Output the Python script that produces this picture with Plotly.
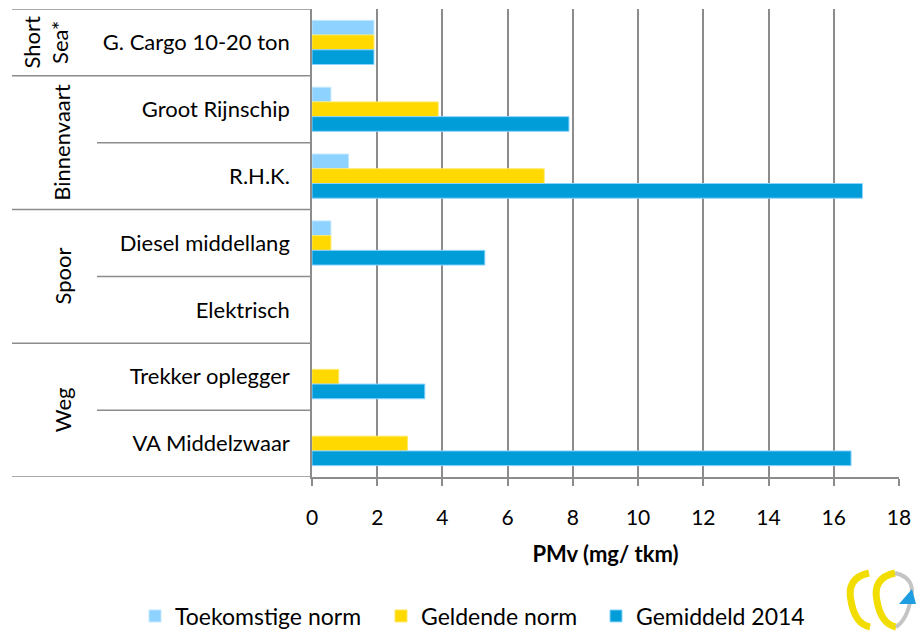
import plotly.graph_objects as go

# ---- data ----
categories = ["G. Cargo 10-20 ton", "Groot Rijnschip", "R.H.K.", "Diesel middellang",
              "Elektrisch", "Trekker oplegger", "VA Middelzwaar"]
groups = [("Short<br>Sea*", 0, 0), ("Binnenvaart", 1, 2), ("Spoor", 3, 4), ("Weg", 5, 6)]
toekomstige = [1.9, 0.58, 1.12, 0.58, 0, 0, 0]
geldende = [1.9, 3.87, 7.12, 0.58, 0, 0.82, 2.93]
gemiddeld = [1.9, 7.88, 16.88, 5.3, 0, 3.46, 16.53]
series_names = ["Toekomstige norm", "Geldende norm", "Gemiddeld 2014"]
x_title = "PMv (mg/ tkm)"
x_ticks = list(range(0, 19, 2))

# ---- layout geometry ----
W, H = 923, 632
ML, MR, MT, MB = 312, 24, 9, 155
PW, PH = W - ML - MR, H - MT - MB
FONT = "Lato, 'Open Sans', sans-serif"
GRID = "#8c8c8c"

def px(x):
    return (x - ML) / PW

def py(y):
    return (H - MB - y) / PH

colors = ["#8ED3FF", "#FFD900", "#009DD8"]
edges = ["#c2e7ff", "#ffe866", "#8ED3FF"]
values = [toekomstige, geldende, gemiddeld]
legend_ids = ["legend", "legend2", "legend3"]
legend_px = [135, 381, 596]

fig = go.Figure()
for name, vals, c, e, lid in zip(series_names, values, colors, edges, legend_ids):
    fig.add_trace(go.Bar(
        y=categories, x=vals, name=name, orientation="h",
        marker=dict(color=c, line=dict(color=e, width=[1 if v > 0 else 0 for v in vals])),
        legend=lid, hoverinfo="x+name",
    ))

n = len(categories)
shapes = []
# category separators in the label area
group_bounds = set()
for _, a, b in groups:
    group_bounds.add(a - 0.5)
    group_bounds.add(b + 0.5)
for k in range(n + 1):
    yb = k - 0.5
    x0 = px(12) if yb in group_bounds else px(97)
    shapes.append(dict(type="line", xref="paper", yref="y", x0=x0, x1=0,
                       y0=yb, y1=yb, line=dict(color=GRID, width=1.5), layer="above"))

# logo (decorative)
def P(x, y):
    return f"{px(x):.5f},{py(y):.5f}"

logo_paths = [
    (f"M{P(869,573)} Q{P(846,578)} {P(851,601)} Q{P(855,624)} {P(870,627)}", "#F2DD00", 7),
    (f"M{P(895,573)} Q{P(872,578)} {P(877,601)} Q{P(881,624)} {P(896,627)}", "#F2DD00", 7),
    (f"M{P(895,573)} Q{P(916,578)} {P(911,598)} Q{P(907,620)} {P(896,627)}", "#C4C4C4", 4),
]
for path, col, w in logo_paths:
    shapes.append(dict(type="path", xref="paper", yref="paper", path=path,
                       line=dict(color=col, width=w), layer="above"))
shapes.append(dict(type="path", xref="paper", yref="paper",
                   path=f"M{P(899,604)} L{P(916,604)} L{P(912,589)} Z",
                   fillcolor="#1E9EE0", line=dict(width=0), layer="above"))

annotations = []
for label, a, b in groups:
    annotations.append(dict(
        text=label, textangle=-90, xref="paper", yref="y",
        x=px(46 if "<br>" in label else 62), y=(a + b) / 2,
        showarrow=False, font=dict(family=FONT, size=22, color="#000"),
        xanchor="center", yanchor="middle", align="center",
    ))

layout_legends = {}
for lid, lx in zip(legend_ids, legend_px):
    layout_legends[lid] = dict(
        x=px(lx), xanchor="left", y=py(616), yanchor="middle",
        orientation="h", font=dict(family=FONT, size=23, color="#000"),
        bgcolor="rgba(0,0,0,0)", borderwidth=0,
    )

fig.update_layout(
    width=W, height=H,
    margin=dict(l=ML, r=MR, t=MT, b=MB, autoexpand=False),
    paper_bgcolor="white", plot_bgcolor="white",
    barmode="group", bargap=0.34, bargroupgap=0,
    font=dict(family=FONT, size=20, color="#000"),
    showlegend=True,
    shapes=shapes, annotations=annotations,
    **layout_legends,
    xaxis=dict(
        range=[0, 18], tickvals=x_ticks, ticktext=[str(t) for t in x_ticks],
        showgrid=True, gridcolor=GRID, gridwidth=1.5,
        showline=True, linecolor=GRID, linewidth=1.5,
        ticks="outside", ticklen=7, tickcolor=GRID, tickwidth=1.5,
        tickfont=dict(family=FONT, size=21, color="#000"),
        ticklabelstandoff=14, zeroline=False, automargin=False,
        title=dict(text=f"<b>{x_title}</b>", font=dict(family=FONT, size=22, color="#000"),
                   standoff=19),
    ),
    yaxis=dict(
        categoryorder="array", categoryarray=categories,
        range=[n - 0.5, -0.5],
        showgrid=False, showline=True, linecolor=GRID, linewidth=1.5,
        ticks="", tickfont=dict(family=FONT, size=22, color="#000"),
        ticklabelstandoff=16, zeroline=False, automargin=False,
    ),
)

fig.write_html("out.html", config={"displayModeBar": False},
               post_script="document.body.style.margin='0';document.body.style.overflow='hidden';")
